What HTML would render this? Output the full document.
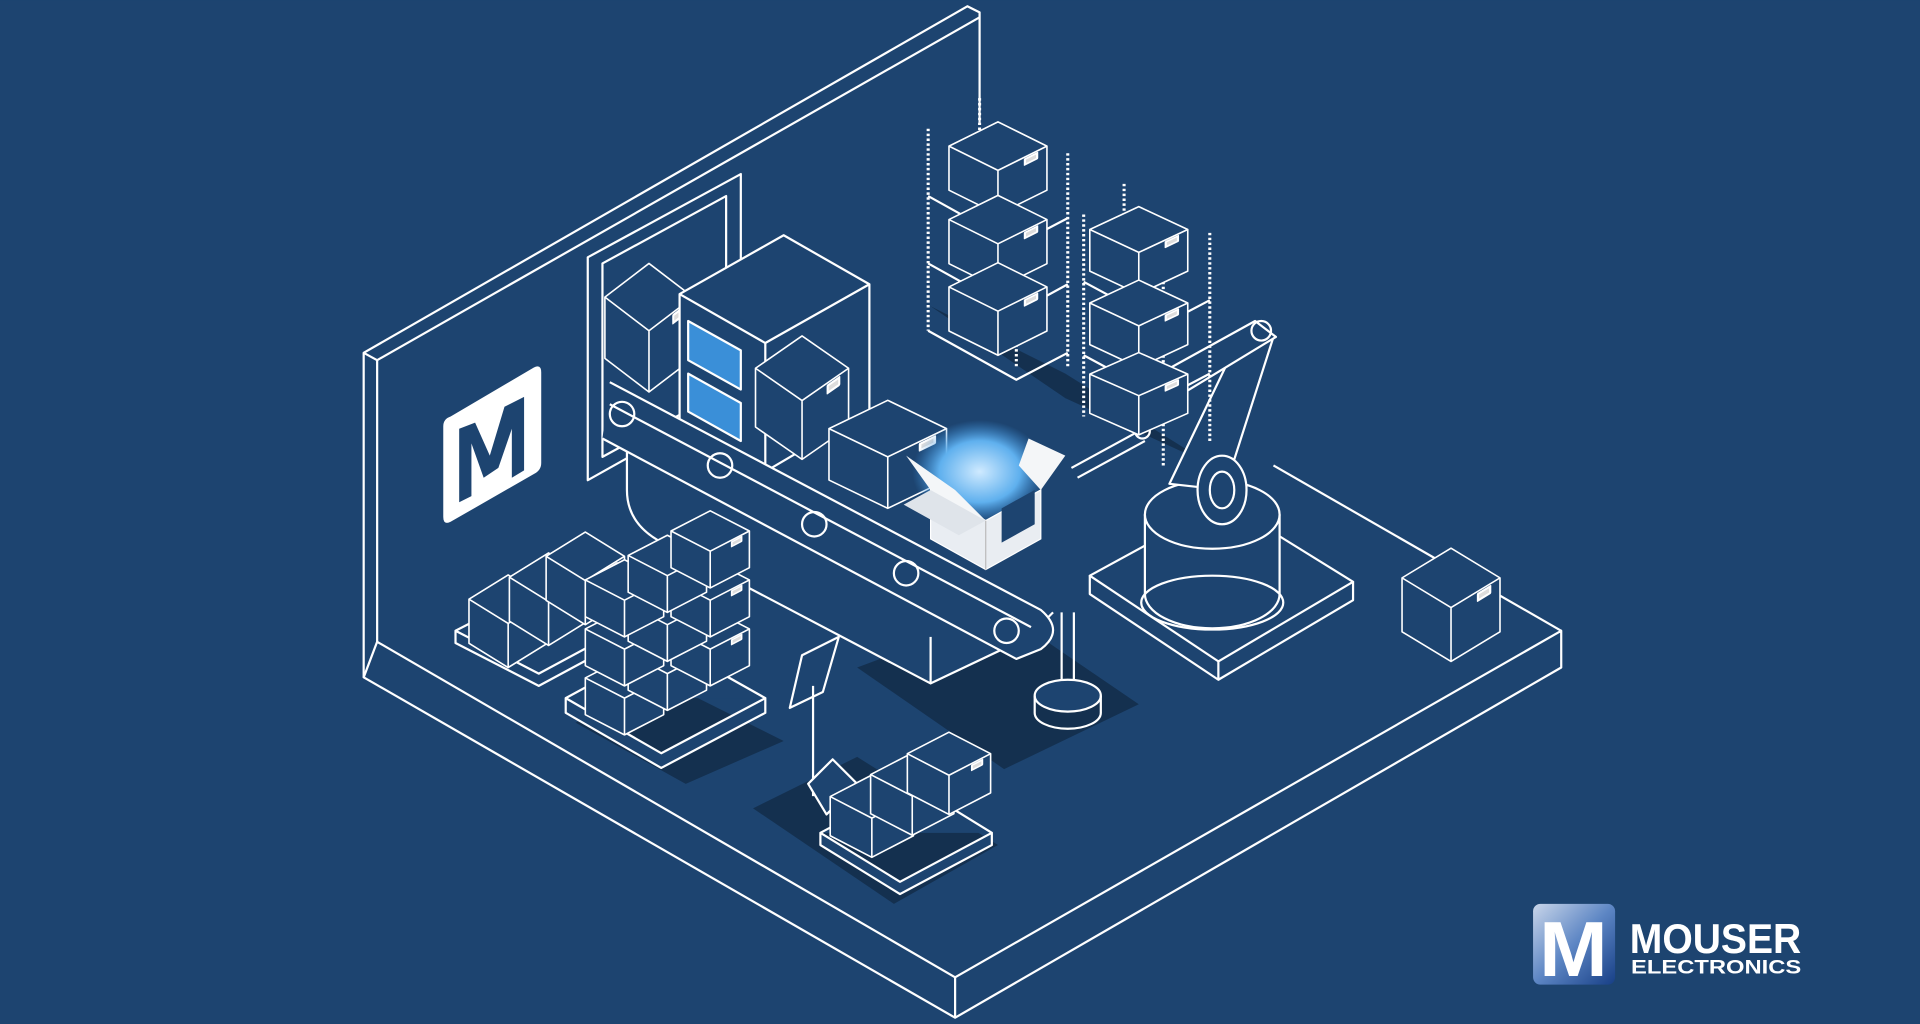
<!DOCTYPE html>
<html><head><meta charset="utf-8"><style>
html,body{margin:0;padding:0;background:#1d4470;overflow:hidden}
svg{display:block}
</style></head><body>
<svg width="1920" height="1024" viewBox="0 0 1568 836" xmlns="http://www.w3.org/2000/svg">
<defs>
<symbol id="cube" overflow="visible">
<path d="M0 0 L-40 -22 L-40 -62 L0 -84 L40 -62 L40 -22 Z" fill="#1d4470" stroke="#fff" stroke-width="1.6" vector-effect="non-scaling-stroke"/>
<path d="M0 0 V-40 M0 -40 L-40 -62 M0 -40 L40 -62" fill="none" stroke="#fff" stroke-width="1.6" vector-effect="non-scaling-stroke"/>
<rect x="22" y="-38" width="10" height="5" fill="#ddd" transform="skewY(-29)"/>
</symbol>
<radialGradient id="glow" cx="0.5" cy="0.5" r="0.5">
<stop offset="0" stop-color="#cfeaff"/><stop offset="0.6" stop-color="#5fb0ee"/><stop offset="1" stop-color="#3b8ed8" stop-opacity="0"/>
</radialGradient>
<linearGradient id="lg" x1="0" y1="0" x2="1" y2="1"><stop offset="0" stop-color="#c9d6ea"/><stop offset="0.5" stop-color="#5d86c4"/><stop offset="1" stop-color="#173f86"/></linearGradient>
</defs>
<rect width="1568" height="836" fill="#1d4470"/>
<g fill="none" stroke="#fff" stroke-width="1.8" stroke-linejoin="round">
<path d="M308 524 L780 798 L1275 515 L1275 545 L780 831 L297 553 Z" fill="#1d4470"/>
<path d="M780 798 V831"/>
<path d="M1040 380 L1275 515"/>
<path d="M297 553 V288 L790 5 L800 10 V100"/>
<path d="M308 524 V294 L800 14"/>
<path d="M297 288 L308 294"/>
<path d="M700 545 L820 500 L930 575 L820 628 Z" fill="#14304f" stroke="none"/>
<path d="M615 660 L700 618 L815 690 L730 738 Z" fill="#14304f" stroke="none"/>
<path d="M470 590 L540 555 L640 605 L560 640 Z" fill="#14304f" stroke="none"/>
<path d="M760 250 L870 305 L990 380 L870 325 Z" fill="#14304f" stroke="none"/>
<path d="M480 210 L605 142 V322 L480 392 Z" fill="#1d4470"/>
<path d="M492 215 L593 160 V318 L492 373 Z"/>
<path d="M512 340 V400 Q512 430 545 445 L760 558 L840 520 L860 500" fill="#1d4470"/>
<path d="M760 558 V520"/>
<use href="#cube" transform="translate(530 320) scale(0.9 1.25)"/>
<path d="M555 240 L640 192 L710 232 L710 335 L625 385 L555 345 Z" fill="#1d4470"/>
<path d="M555 240 L625 280 L710 232 M625 280 V385"/>
<path d="M562 262 L605 286 V318 L562 294 Z" fill="#3a8fd8"/>
<path d="M562 305 L605 329 V360 L562 336 Z" fill="#3a8fd8"/>
<path d="M498 312 L850 498 Q870 515 850 530 L830 538 L492 358" fill="#1d4470"/>
<path d="M498 330 L842 512"/>
<circle cx="508" cy="338" r="10"/><circle cx="588" cy="380" r="10"/><circle cx="665" cy="428" r="10"/><circle cx="740" cy="468" r="10"/><circle cx="822" cy="515" r="10"/>
<use href="#cube" transform="translate(655 375) scale(0.95 1.2)"/>
<use href="#cube" transform="translate(725 415) scale(1.2 1.05)"/>
<path d="M867 500 V560 M877 500 V560"/>
<ellipse cx="872" cy="568" rx="27" ry="13" fill="#1d4470"/>
<path d="M845 568 V582 A27 13 0 0 0 899 582 V568"/>
<path d="M890 470 L1000 410 L1105 475 L995 540 Z" fill="#1d4470"/>
<path d="M890 470 V485 L995 555 L1105 490 V475 M995 540 V555"/>
<path d="M935 420 V485 A55 28 0 0 0 1045 485 V420" fill="#1d4470"/>
<ellipse cx="990" cy="420" rx="55" ry="28" fill="#1d4470"/>
<ellipse cx="990" cy="492" rx="58" ry="22"/>
<path d="M955 395 L1015 270 L1040 275 L1000 400 Z" fill="#1d4470"/>
<path d="M920 320 L1025 262 L1042 275 L935 340 Z" fill="#1d4470"/>
<circle cx="1030" cy="270" r="8"/><circle cx="930" cy="330" r="7"/><circle cx="933" cy="352" r="6"/>
<ellipse cx="998" cy="400" rx="20" ry="28" fill="#1d4470"/><ellipse cx="998" cy="400" rx="10" ry="15"/>
<path d="M930 352 L875 382 M935 360 L880 390"/>
<g stroke-dasharray="2 2" stroke-width="2.5">
<path d="M758 105 V270 M830 145 V300 M872 125 V300 M800 80 V250 M885 175 V340 M950 210 V380 M988 190 V360 M918 150 V320"/>
</g>
<path d="M758 160 L830 200 L872 178 M758 215 L830 255 L872 232 M758 270 L830 310 L872 288 M885 230 L950 265 L988 245 M885 290 L950 325 L988 305"/>
<use href="#cube" transform="translate(815 175) scale(1 0.9)"/>
<use href="#cube" transform="translate(815 235) scale(1 0.9)"/>
<use href="#cube" transform="translate(815 290) scale(1 0.9)"/>
<use href="#cube" transform="translate(930 240) scale(1 0.85)"/>
<use href="#cube" transform="translate(930 300) scale(1 0.85)"/>
<use href="#cube" transform="translate(930 355) scale(1 0.8)"/>
<path d="M372 515 L440 480 L505 515 L440 550 Z M372 515 V525 L440 560 L505 525 V515" fill="#1d4470"/>
<use href="#cube" transform="translate(415 545) scale(0.8 0.9)"/>
<use href="#cube" transform="translate(448 527) scale(0.8 0.9)"/>
<use href="#cube" transform="translate(478 510) scale(0.8 0.9)"/>
<path d="M462 570 L545 525 L625 570 L540 615 Z M462 570 V582 L540 627 L625 582 V570" fill="#1d4470"/>
<use href="#cube" transform="translate(510 600) scale(0.8 0.75)"/>
<use href="#cube" transform="translate(545 580) scale(0.8 0.75)"/>
<use href="#cube" transform="translate(580 560) scale(0.8 0.75)"/>
<use href="#cube" transform="translate(510 560) scale(0.8 0.75)"/>
<use href="#cube" transform="translate(545 540) scale(0.8 0.75)"/>
<use href="#cube" transform="translate(580 520) scale(0.8 0.75)"/>
<use href="#cube" transform="translate(510 520) scale(0.8 0.75)"/>
<use href="#cube" transform="translate(545 500) scale(0.8 0.75)"/>
<use href="#cube" transform="translate(580 480) scale(0.8 0.75)"/>
<path d="M655 535 L685 520 L672 565 L645 578 Z M664 560 V650"/>
<path d="M660 640 L680 620 L700 640 L675 665 Z" fill="#1d4470"/>
<path d="M670 680 L745 640 L810 680 L735 720 Z M670 680 V690 L735 730 L810 690 V680" fill="#1d4470"/>
<use href="#cube" transform="translate(712 700) scale(0.85 0.8)"/>
<use href="#cube" transform="translate(745 682) scale(0.85 0.8)"/>
<use href="#cube" transform="translate(775 665) scale(0.85 0.8)"/>
<use href="#cube" transform="translate(1185 540) scale(1 1.1)"/>
</g>
<ellipse cx="800" cy="385" rx="55" ry="42" fill="url(#glow)"/>
<path d="M760 400 L805 425 L850 400 L850 440 L805 465 L760 440 Z" fill="#e9edf2" stroke="#fff"/>
<path d="M805 425 V465" stroke="#bbb"/>
<path d="M740 372 L760 400 L805 425 L780 400 Z" fill="#f4f6f8"/>
<path d="M760 400 L738 412 L783 437 L805 425 Z" fill="#dfe4ea"/>
<path d="M850 400 L870 372 L840 358 L832 380 Z" fill="#f4f6f8"/>
<path d="M818 415 L845 400 V428 L818 443 Z" fill="#1d4470"/>
<path d="M368 340 L436 300 Q442 297 442 304 L442 378 Q442 384 436 387 L368 426 Q362 429 362 422 L362 348 Q362 342 368 340 Z" fill="#fff"/>
<path d="M375 410 V350 L388 345 L400 372 L412 332 L428 324 V384 L418 390 V350 L407 382 L395 390 L385 362 V405 Z" fill="#1d4470"/>
<rect x="1252" y="738" width="67" height="66" rx="6" fill="url(#lg)"/>
<text x="1285" y="797" font-family="Liberation Sans, sans-serif" font-weight="bold" font-size="64" fill="#fff" text-anchor="middle" textLength="56" lengthAdjust="spacingAndGlyphs">M</text>
<text x="1331" y="778" font-family="Liberation Sans, sans-serif" font-weight="bold" font-size="34" fill="#fff" textLength="140" lengthAdjust="spacingAndGlyphs">MOUSER</text>
<text x="1332" y="795" font-family="Liberation Sans, sans-serif" font-weight="bold" font-size="16" fill="#fff" textLength="139" lengthAdjust="spacingAndGlyphs">ELECTRONICS</text>
</svg>
</body></html>
